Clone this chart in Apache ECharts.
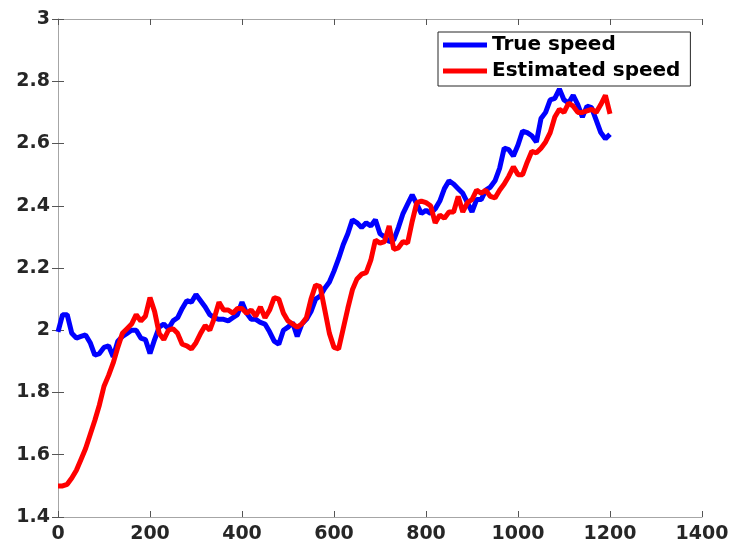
<!DOCTYPE html>
<html>
<head>
<meta charset="utf-8">
<script src="https://cdn.jsdelivr.net/npm/echarts@6/dist/echarts.min.js"></script>
<style>
html,body{margin:0;padding:0;background:#fff;}
#chart{width:734px;height:551px;}
</style>
</head>
<body>
<div id="chart"></div>
<script>
const sampleX = [0,10,20,30,40,50,60,70,80,90,100,110,120,130,140,150,160,170,180,190,
200,210,220,230,240,250,260,270,280,290,300,310,320,330,340,350,360,370,380,390,
400,410,420,430,440,450,460,470,480,490,500,510,520,530,540,550,560,570,580,590,
600,610,620,630,640,650,660,670,680,690,700,710,720,730,740,750,760,770,780,790,
800,810,820,830,840,850,860,870,880,890,900,910,920,930,940,950,960,970,980,990,
1000,1010,1020,1030,1040,1050,1060,1070,1080,1090,1100,1110,1120,1130,1140,1150,1160,1170,1180,1190,1200];

const trueSpeed = [1.995,2.05,2.05,1.99,1.975,1.98,1.985,1.96,1.92,1.925,
1.945,1.95,1.915,1.965,1.98,1.99,2.0,2.0,1.975,1.97,
1.925,1.97,2.01,2.02,2.005,2.03,2.04,2.07,2.095,2.09,
2.115,2.095,2.075,2.05,2.04,2.035,2.035,2.03,2.04,2.05,
2.09,2.055,2.035,2.035,2.025,2.02,1.995,1.965,1.955,2.0,
2.01,2.025,1.98,2.02,2.035,2.06,2.1,2.11,2.135,2.155,
2.19,2.23,2.275,2.31,2.355,2.345,2.33,2.345,2.335,2.355,
2.31,2.3,2.285,2.29,2.33,2.375,2.405,2.435,2.405,2.375,
2.385,2.375,2.39,2.415,2.455,2.48,2.47,2.455,2.44,2.41,
2.38,2.42,2.42,2.45,2.46,2.48,2.52,2.585,2.58,2.56,
2.595,2.64,2.635,2.625,2.605,2.68,2.70,2.74,2.745,2.775,
2.74,2.73,2.755,2.725,2.685,2.72,2.715,2.675,2.635,2.615,2.63];

const estimatedSpeed = [1.5,1.5,1.505,1.525,1.55,1.585,1.62,1.665,1.71,1.76,
1.82,1.855,1.895,1.945,1.99,2.005,2.02,2.05,2.03,2.045,
2.105,2.06,1.99,1.97,2.0,2.005,1.99,1.955,1.95,1.94,
1.96,1.99,2.015,2.0,2.04,2.09,2.065,2.065,2.055,2.07,
2.07,2.055,2.065,2.045,2.075,2.04,2.065,2.105,2.1,2.055,
2.03,2.02,2.01,2.02,2.04,2.1,2.145,2.14,2.065,1.99,
1.945,1.94,2.005,2.07,2.13,2.165,2.18,2.185,2.225,2.29,
2.28,2.285,2.335,2.26,2.265,2.285,2.28,2.35,2.41,2.415,
2.41,2.4,2.345,2.37,2.36,2.38,2.38,2.43,2.38,2.41,
2.42,2.45,2.44,2.45,2.43,2.425,2.45,2.47,2.495,2.525,
2.5,2.5,2.54,2.575,2.57,2.585,2.605,2.635,2.685,2.71,
2.70,2.73,2.72,2.70,2.70,2.705,2.71,2.70,2.725,2.755,2.695];

const xTicks = [0,200,400,600,800,1000,1200,1400];
const yTicks = [1.4,1.6,1.8,2,2.2,2.4,2.6,2.8,3];
const seriesNames = ['True speed','Estimated speed'];

const pairs = (vals) => sampleX.map((x, i) => [x, vals[i]]);

const tickFont = {fontFamily:'DejaVu Sans', fontWeight:'bold', fontSize:19, color:'#262626'};
const frameLine = {show:true, lineStyle:{color:'#a6a6a6', width:1}};
const inTick = {show:true, inside:true, length:6, lineStyle:{color:'#555', width:1}};

const chart = echarts.init(document.getElementById('chart'), null, {renderer:'canvas'});
chart.setOption({
  animation:false,
  backgroundColor:'#fff',
  grid:{left:58, right:32, top:19, bottom:34, containLabel:false},
  xAxis:[
    {type:'value', min:0, max:1400, interval:200, position:'bottom',
     axisLine:frameLine, axisTick:inTick, splitLine:{show:false},
     axisLabel:Object.assign({margin:8, formatter:(v)=>String(v)}, tickFont)},
    {type:'value', min:0, max:1400, interval:200, position:'top',
     axisLine:frameLine, axisTick:inTick, splitLine:{show:false}, axisLabel:{show:false}}
  ],
  yAxis:[
    {type:'value', min:1.4, max:3, interval:0.2, position:'left',
     axisLine:frameLine, axisTick:inTick, splitLine:{show:false},
     axisLabel:Object.assign({margin:8, formatter:(v)=>String(+v.toFixed(1))}, tickFont)},
    {type:'value', min:1.4, max:3, interval:0.2, position:'right',
     axisLine:frameLine, axisTick:inTick, splitLine:{show:false}, axisLabel:{show:false}}
  ],
  legend:{
    orient:'vertical', left:438, top:32,
    backgroundColor:'#fff', borderColor:'#262626', borderWidth:1,
    padding:[2,10,4,5], itemGap:4, itemWidth:44, itemHeight:5,
    icon:'rect',
    textStyle:{fontFamily:'DejaVu Sans', fontWeight:'bold', fontSize:20, color:'#000', lineHeight:22},
    data:seriesNames
  },
  series:[
    {name:seriesNames[0], type:'line', data:pairs(trueSpeed), showSymbol:false,
     lineStyle:{color:'#0000ff', width:5}, itemStyle:{color:'#0000ff'}, z:2},
    {name:seriesNames[1], type:'line', data:pairs(estimatedSpeed), showSymbol:false,
     lineStyle:{color:'#ff0000', width:5}, itemStyle:{color:'#ff0000'}, z:3}
  ]
});
</script>
</body>
</html>
